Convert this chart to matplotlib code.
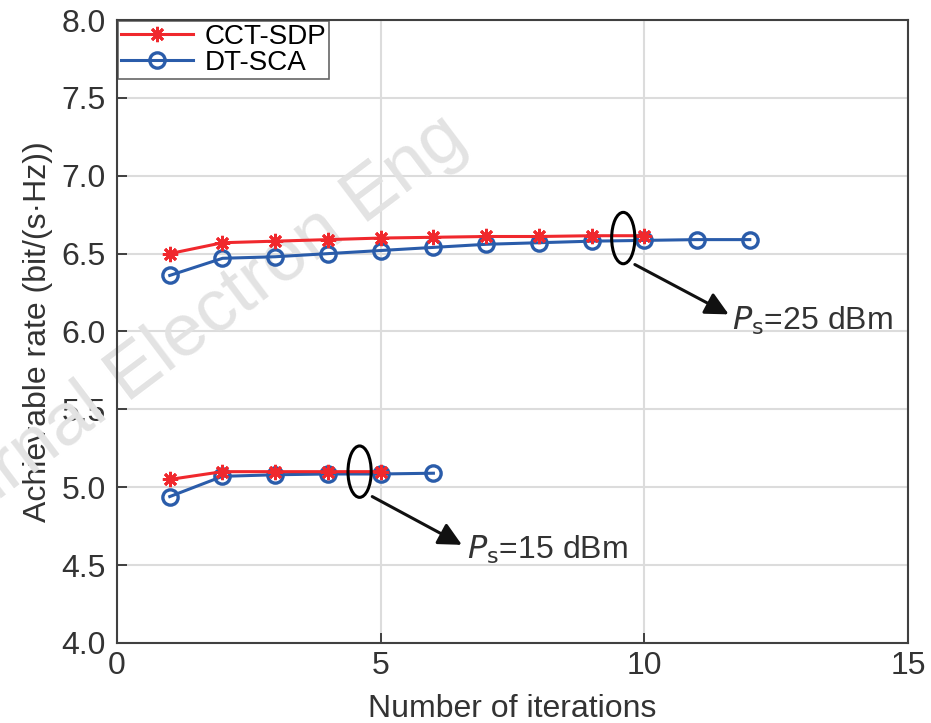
import matplotlib.pyplot as plt
from matplotlib.patches import Ellipse

plt.rcParams['font.family'] = ['Liberation Sans', 'DejaVu Sans']

# 25 dBm
it_cct_25 = [1, 2, 3, 4, 5, 6, 7, 8, 9, 10]
cct_25 = [6.50, 6.57, 6.58, 6.59, 6.60, 6.605, 6.61, 6.61, 6.615, 6.615]
it_dt_25 = [1, 2, 3, 4, 5, 6, 7, 8, 9, 10, 11, 12]
dt_25 = [6.36, 6.47, 6.48, 6.50, 6.52, 6.54, 6.56, 6.57, 6.58, 6.585, 6.59, 6.59]

# 15 dBm
it_cct_15 = [1, 2, 3, 4, 5]
cct_15 = [5.05, 5.10, 5.10, 5.10, 5.10]
it_dt_15 = [1, 2, 3, 4, 5, 6]
dt_15 = [4.94, 5.07, 5.08, 5.085, 5.085, 5.09]

red = '#f0282d'
blue = '#2a5caa'
txt = '#333333'

fig = plt.figure(figsize=(9.31, 7.23), dpi=100)
ax = fig.add_axes([0.1257, 0.1107, 0.8496, 0.8616])

star = dict(color=red, lw=2.2, marker=(8, 2, 0), ms=11, mew=2)
circ = dict(color=blue, lw=2.2, marker='o', ms=11, mfc='none', mew=2.4)
ax.plot(it_cct_25, cct_25, label='CCT-SDP', zorder=4, **star)
ax.plot(it_dt_25, dt_25, label='DT-SCA', zorder=3, **circ)
ax.plot(it_cct_15, cct_15, zorder=4, **star)
ax.plot(it_dt_15, dt_15, zorder=3, **circ)

ax.set_xlim(0, 15)
ax.set_ylim(4.0, 8.0)
ax.set_xticks([0, 5, 10, 15])
ax.set_yticks([4.0, 4.5, 5.0, 5.5, 6.0, 6.5, 7.0, 7.5, 8.0])
ax.set_yticklabels(['%.1f' % v for v in ax.get_yticks()])
ax.grid(True, color='#dcdcdc', lw=1.5)
ax.set_axisbelow(True)
for s in ax.spines.values():
    s.set_color('#404040')
    s.set_linewidth(1.5)
ax.tick_params(labelsize=23, colors=txt, direction='in', length=7, width=1.3)
ax.tick_params(axis='x', pad=6)
ax.tick_params(axis='y', pad=8)
ax.set_xlabel('Number of iterations', fontsize=23, color=txt, labelpad=9)
ax.set_ylabel('Achievable rate (bit/(s·Hz))', fontsize=23, color=txt, labelpad=6)

# annotations
arrow = dict(arrowstyle='-|>,head_length=0.7,head_width=0.35', mutation_scale=20,
             color='#111111', lw=2.2, shrinkA=0, shrinkB=0)
ax.add_patch(Ellipse((9.6, 6.6), 0.44, 0.33, fill=False, ec='black', lw=2.2, zorder=5))
ax.annotate('', xy=(11.6, 6.11), xytext=(9.82, 6.43), arrowprops=arrow)
ax.text(11.66, 6.07, r'$P_{\rm s}$=25 dBm', fontsize=23, color=txt, va='center')

ax.add_patch(Ellipse((4.6, 5.1), 0.44, 0.33, fill=False, ec='black', lw=2.2, zorder=5))
ax.annotate('', xy=(6.54, 4.63), xytext=(4.84, 4.94), arrowprops=arrow)
ax.text(6.64, 4.6, r'$P_{\rm s}$=15 dBm', fontsize=23, color=txt, va='center')

leg = ax.legend(loc='upper left', fontsize=20, frameon=True, fancybox=False,
                borderpad=0.1, handlelength=2.6, labelspacing=0.0,
                borderaxespad=0.05, handletextpad=0.4)
leg.get_frame().set_edgecolor('#404040')
leg.get_frame().set_linewidth(1.2)

# watermark
ax.text(0.505, 0.80, 'Journal Electron Eng', fontsize=54, color='#e3e3e3',
        rotation=37, rotation_mode='anchor', ha='right', va='baseline',
        transform=fig.transFigure, clip_on=False, zorder=1.5)

fig.savefig('out.png', dpi=100)
